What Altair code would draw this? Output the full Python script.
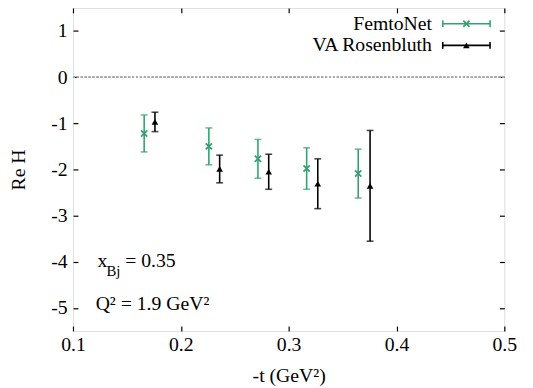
import altair as alt
import pandas as pd

# --- data ---
series_names = ["FemtoNet", "VA Rosenbluth"]

t_femto = [0.166, 0.226, 0.2715, 0.3167, 0.3645]
reh_femto = [-1.22, -1.50, -1.77, -1.98, -2.09]
err_femto = [0.40, 0.40, 0.42, 0.45, 0.53]

t_rosen = [0.176, 0.236, 0.2815, 0.327, 0.3755]
reh_rosen = [-0.97, -1.99, -2.05, -2.31, -2.355]
err_rosen = [0.21, 0.30, 0.38, 0.54, 1.20]

x_ticks = [0.1, 0.2, 0.3, 0.4, 0.5]
y_ticks = [-5, -4, -3, -2, -1, 0, 1]

GREEN = "#35a071"
BLACK = "#000000"
FONT = "Liberation Serif, Times New Roman, serif"

rows = []
for name, ts, vs, es in [(series_names[0], t_femto, reh_femto, err_femto),
                         (series_names[1], t_rosen, reh_rosen, err_rosen)]:
    for t, v, e in zip(ts, vs, es):
        rows.append({"series": name, "t": t, "reh": v, "lo": v - e, "hi": v + e})
df = pd.DataFrame(rows)

xs = alt.Scale(domain=[0.1, 0.5], nice=False, zero=False)
ys = alt.Scale(domain=[-5.5, 1.5], nice=False, zero=False)
cs = alt.Scale(domain=series_names, range=[GREEN, BLACK])

common = dict(grid=False, domain=False, tickColor="black", tickWidth=1.2, tickSize=5,
              offset=-5, labelFont=FONT, labelFontSize=20, labelColor="black",
              titleFont=FONT, titleFontSize=20, titleFontWeight="normal", titleColor="black")

ax_bottom = alt.Axis(orient="bottom", values=x_ticks, format=".1f", labelPadding=4,
                     labelFlush=False, labelOverlap=False, labelBound=False,
                     title="-t (GeV²)", titlePadding=11, **common)
ax_top = alt.Axis(orient="top", values=x_ticks, labels=False, title=None, **common)
ax_left = alt.Axis(orient="left", values=y_ticks, labelPadding=6, labelFlush=False,
                   labelOverlap=False, labelBound=False,
                   labelExpr="datum.value < 0 ? '-' + abs(datum.value) : '' + datum.value",
                   title="Re H", titlePadding=23, **common)
ax_right = alt.Axis(orient="right", values=y_ticks, labels=False, title=None, **common)

base = alt.Chart(df)

zero_line = base.mark_rule(color="#aaaaaa", strokeDash=[2, 2], strokeWidth=1).encode(
    y=alt.YDatum(0, scale=ys, axis=None)
)

bars = base.mark_rule(strokeWidth=1.6).encode(
    x=alt.X("t:Q", scale=xs, axis=ax_bottom),
    y=alt.Y("lo:Q", scale=ys, axis=ax_left),
    y2="hi:Q",
    color=alt.Color("series:N", scale=cs, legend=None),
)

cap_lo = base.mark_tick(orient="horizontal", size=7, thickness=1.6).encode(
    x=alt.X("t:Q", scale=xs, axis=None),
    y=alt.Y("lo:Q", scale=ys, axis=None),
    color=alt.Color("series:N", scale=cs, legend=None),
)
cap_hi = base.mark_tick(orient="horizontal", size=7, thickness=1.6).encode(
    x=alt.X("t:Q", scale=xs, axis=None),
    y=alt.Y("hi:Q", scale=ys, axis=None),
    color=alt.Color("series:N", scale=cs, legend=None),
)

crosses = base.transform_filter(alt.datum.series == series_names[0]).mark_point(
    shape="M-1,-1L1,1M-1,1L1,-1", size=40, filled=False, strokeWidth=1.8, color=GREEN, opacity=1
).encode(
    x=alt.X("t:Q", scale=xs, axis=ax_top),
    y=alt.Y("reh:Q", scale=ys, axis=ax_right),
)

tris = base.transform_filter(alt.datum.series == series_names[1]).mark_point(
    shape="triangle-up", size=45, filled=True, color=BLACK, opacity=1
).encode(
    x=alt.X("t:Q", scale=xs, axis=None),
    y=alt.Y("reh:Q", scale=ys, axis=None),
)

one = pd.DataFrame({"k": [0]})


def txt(text, x, y, size=20, align="left", baseline="alphabetic"):
    return alt.Chart(one).mark_text(text=text, font=FONT, fontSize=size, align=align,
                                    baseline=baseline, color="black").encode(
        x=alt.value(x), y=alt.value(y))


def legend_sample(color, y, marker):
    line = alt.Chart(one).mark_rule(color=color, strokeWidth=1.6).encode(
        x=alt.value(375.5), x2=alt.value(423.5), y=alt.value(y))
    c1 = alt.Chart(one).mark_rule(color=color, strokeWidth=1.6).encode(
        x=alt.value(375.5), y=alt.value(y - 3.5), y2=alt.value(y + 3.5))
    c2 = alt.Chart(one).mark_rule(color=color, strokeWidth=1.6).encode(
        x=alt.value(423.5), y=alt.value(y - 3.5), y2=alt.value(y + 3.5))
    if marker == "cross":
        m = alt.Chart(one).mark_point(shape="M-1,-1L1,1M-1,1L1,-1", size=40, filled=False,
                                      strokeWidth=1.8, color=color, opacity=1)
    else:
        m = alt.Chart(one).mark_point(shape="triangle-up", size=45, filled=True,
                                      color=color, opacity=1)
    m = m.encode(x=alt.value(399.5), y=alt.value(y))
    return [line, c1, c2, m]


legend_layers = (
    [txt(series_names[0], 364.5, 22, align="right")]
    + legend_sample(GREEN, 16, "cross")
    + [txt(series_names[1], 364.5, 44, align="right")]
    + legend_sample(BLACK, 38, "tri")
)

annot = [
    txt("x", 25, 263),
    txt("Bj", 34, 272, size=15),
    txt("= 0.35", 53, 263),
    txt("Q² = 1.9 GeV²", 23, 307),
]

chart = alt.layer(
    zero_line, bars, cap_lo, cap_hi, crosses, tris, *legend_layers, *annot
).resolve_axis(x="independent", y="independent").properties(
    width=438, height=328,
    autosize=alt.AutoSizeParams(type="none"),
    padding={"left": 66, "top": -3, "right": 21, "bottom": 55},
).configure_view(stroke="black", strokeWidth=1.4).configure(background="white")

chart.save("out.html", embed_options={"renderer": "svg", "actions": False})
